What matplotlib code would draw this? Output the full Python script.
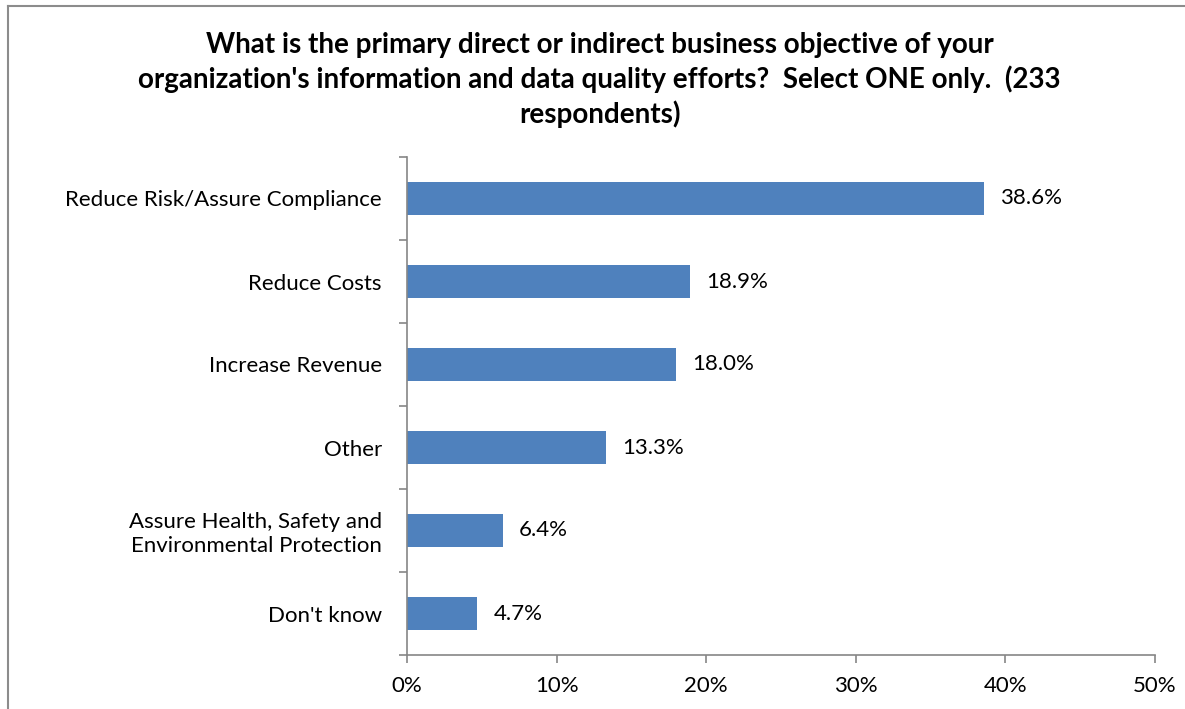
import matplotlib
matplotlib.use("Agg")
import matplotlib.pyplot as plt
from matplotlib.lines import Line2D
from matplotlib.ticker import FixedLocator, PercentFormatter

# Survey responses, top to bottom
categories = [
    "Reduce Risk/Assure Compliance",
    "Reduce Costs",
    "Increase Revenue",
    "Other",
    "Assure Health, Safety and\nEnvironmental Protection",
    "Don't know",
]
shares = [38.6, 18.9, 18.0, 13.3, 6.4, 4.7]
x_ticks = [0, 10, 20, 30, 40, 50]

title = ("What is the primary direct or indirect business objective of your\n"
         "organization's information and data quality efforts?  Select ONE only.  (233\n"
         "respondents)")

BAR_COLOR = "#4F81BD"
AXIS_COLOR = "#868686"
FS = 16

plt.rcParams["font.family"] = ["Lato", "DejaVu Sans"]

fig = plt.figure(figsize=(11.85, 7.09), dpi=100)
ax = fig.add_axes([407 / 1185, 1 - 655 / 709, 748 / 1185, 498 / 709])

n = len(categories)
ypos = list(range(n))
ax.barh(ypos, shares, height=0.4, color=BAR_COLOR, zorder=2)

for y, v in zip(ypos, shares):
    ax.annotate(f"{v:.1f}%", (v, y), xytext=(11.5, 0), textcoords="offset points",
                ha="left", va="center", fontsize=FS, color="black")

ax.set_xlim(0, 50)
ax.set_ylim(n - 0.5, -0.5)
ax.xaxis.set_major_locator(FixedLocator(x_ticks))
ax.xaxis.set_major_formatter(PercentFormatter(decimals=0))

ax.set_yticks(ypos)
ax.set_yticklabels(categories, fontsize=FS, ha="right", multialignment="right",
                   linespacing=1.25)
ax.yaxis.set_minor_locator(FixedLocator([i - 0.5 for i in range(n + 1)]))
ax.tick_params(axis="y", which="major", length=0, pad=18)
ax.tick_params(axis="y", which="minor", length=6, width=1.2, color=AXIS_COLOR)
ax.tick_params(axis="x", length=6, width=1.2, color=AXIS_COLOR, labelsize=FS, pad=9)

for side in ("top", "right"):
    ax.spines[side].set_visible(False)
for side in ("left", "bottom"):
    ax.spines[side].set_color(AXIS_COLOR)
    ax.spines[side].set_linewidth(1.2)

fig.text(0.506, 1 - 80 / 709, title, ha="center", va="center", fontsize=20,
         fontweight="bold", linespacing=1.34)

# Chart area frame: top and left edges
fig.add_artist(Line2D([8 / 1185, 1], [1 - 6 / 709, 1 - 6 / 709],
                      transform=fig.transFigure, color="#8c8c8c", lw=1.5))
fig.add_artist(Line2D([8 / 1185, 8 / 1185], [0, 1 - 6 / 709],
                      transform=fig.transFigure, color="#8c8c8c", lw=1.5))

fig.savefig("out.png", dpi=100)
